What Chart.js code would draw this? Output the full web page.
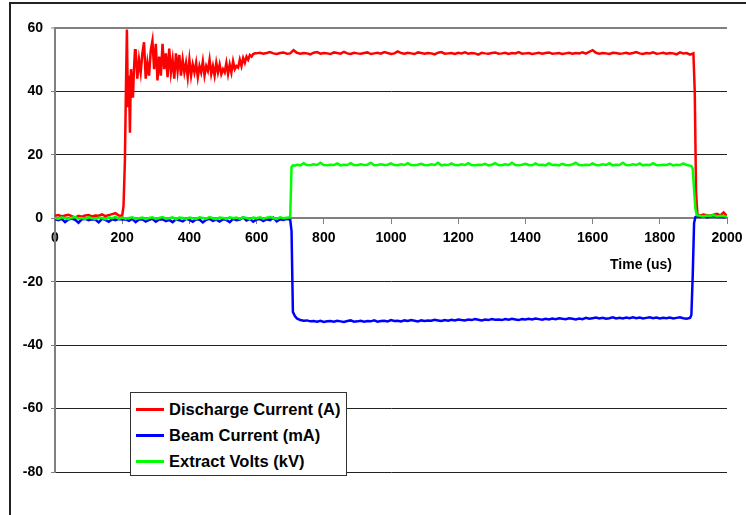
<!DOCTYPE html>
<html>
<head>
<meta charset="utf-8">
<script src="https://cdn.jsdelivr.net/npm/chart.js@4.4.0/dist/chart.umd.min.js"></script>
<style>
  body { margin: 0; background: #fff; }
  #wrap { position: relative; width: 746px; height: 515px; overflow: hidden; font-family: Arial, "Liberation Sans", sans-serif; }
  #frame { position: absolute; left: 9px; top: 2px; width: 800px; height: 600px; border-top: 2px solid #222; border-left: 2px solid #222; }
  #legend { position: absolute; left: 130px; top: 392px; width: 217px; height: 84px; box-sizing: border-box; border: 1px solid #333; background: #fff; }
  .item { position: absolute; left: 0; height: 20px; font-weight: bold; font-size: 16.5px; color: #000; white-space: nowrap; }
  .item .swatch { position: absolute; left: 5px; top: 9px; width: 28px; height: 3px; }
  .item .txt { position: absolute; left: 38px; top: 0; line-height: 20px; }
  #xtitle { position: absolute; left: 641px; top: 256px; transform: translateX(-50%); font-weight: bold; font-size: 14px; white-space: nowrap; }
  canvas { position: absolute; left: 0; top: 0; }
</style>
</head>
<body>
<div id="wrap">
  <div id="frame"></div>
  <canvas id="chart" width="746" height="515"></canvas>
  <div id="xtitle">Time (us)</div>
  <div id="legend"></div>
</div>
<script>
const seriesLabels = ['Discharge Current (A)', 'Beam Current (mA)', 'Extract Volts (kV)'];
const seriesColors = ['#ff0000', '#0000ff', '#00ff00'];

const xTicks = [0, 200, 400, 600, 800, 1000, 1200, 1400, 1600, 1800, 2000];
const yTicks = [-80, -60, -40, -20, 0, 20, 40, 60];

// discharge current, sampled denser where it rings
const dischargeTimeUs = [
  0, 10, 20, 30, 40, 50, 60, 70, 80, 90, 100, 110, 120, 130, 140, 150, 160, 170, 180, 190,
  200, 204, 208, 211, 214, 217, 220, 223, 226, 229, 232, 235, 238,
  240, 245, 250, 255, 260, 265, 270, 275, 280, 285, 290, 295, 300, 305, 310, 315, 320, 325, 330, 335,
  340, 345, 350, 355, 360, 365, 370, 375, 380, 385, 390, 395, 400, 405, 410, 415, 420, 425, 430, 435,
  440, 445, 450, 455, 460, 465, 470, 475, 480, 485, 490, 495, 500, 505, 510, 515, 520, 525, 530, 535,
  540, 545, 550, 555, 560, 565, 570, 575, 580, 585, 590, 595, 600,
  610, 620, 630, 640, 650, 660, 670, 680, 690, 700,
  710, 720, 730, 740, 750, 760, 770, 780, 790, 800,
  810, 820, 830, 840, 850, 860, 870, 880, 890, 900,
  910, 920, 930, 940, 950, 960, 970, 980, 990, 1000,
  1010, 1020, 1030, 1040, 1050, 1060, 1070, 1080, 1090, 1100,
  1110, 1120, 1130, 1140, 1150, 1160, 1170, 1180, 1190, 1200,
  1210, 1220, 1230, 1240, 1250, 1260, 1270, 1280, 1290, 1300,
  1310, 1320, 1330, 1340, 1350, 1360, 1370, 1380, 1390, 1400,
  1410, 1420, 1430, 1440, 1450, 1460, 1470, 1480, 1490, 1500,
  1510, 1520, 1530, 1540, 1550, 1560, 1570, 1580, 1590, 1600,
  1610, 1620, 1630, 1640, 1650, 1660, 1670, 1680, 1690, 1700,
  1710, 1720, 1730, 1740, 1750, 1760, 1770, 1780, 1790, 1800,
  1810, 1820, 1830, 1840, 1850, 1860, 1870, 1880, 1890,
  1900, 1904, 1908, 1912,
  1920, 1930, 1940, 1950, 1960, 1970, 1980, 1990, 2000
];
const dischargeA = [
  0.8, 1.0, 0.6, 0.9, 1.1, 0.7, 0.2, 0.8, 0.5, 0.9, 1.0, 0.6, 0.9, 0.8, 1.2, 0.7, 1.0, 1.3, 1.6, 0.9,
  0.8, 4, 18, 40, 59.5, 35, 45, 27, 47, 44, 38, 47, 53,
  53, 44, 50, 46, 52, 55.5, 44, 49, 45, 53, 56, 47, 55, 43.5, 51, 45, 55, 47, 52, 44.5,
  53.5, 46, 50, 44, 52, 46.5, 51.5, 45, 50, 46, 49, 44.5, 50, 45, 48.5, 46, 49, 44.5, 48, 46,
  49.5, 45, 48, 46.5, 50, 45.5, 48, 45, 49, 46, 48.5, 45.5, 47, 46, 49, 45.5, 48.5, 46, 49.5, 47,
  48, 47.5, 50, 48, 50.5, 49, 51, 50, 51.5, 51, 51.8, 52, 52,
  52.2, 51.9, 52.1, 52.4, 52.0, 51.8, 52.1, 52.3, 51.9, 52.0,
  53.0, 52.2, 51.9, 52.1, 52.0, 51.7, 52.2, 52.4, 51.9, 52.1,
  52.0, 51.8, 52.3, 52.1, 51.9, 52.5, 52.0, 51.8, 52.2, 52.0,
  51.9, 52.1, 52.3, 51.8, 52.0, 52.2, 51.9, 52.4, 52.1, 51.8,
  52.0, 52.6, 52.1, 51.9, 52.2, 52.0, 51.8, 52.3, 52.1, 51.9,
  52.1, 52.0, 51.7, 52.2, 52.4, 51.9, 52.0, 52.1, 51.8, 52.2,
  52.0, 52.3, 51.9, 52.1, 52.0, 51.6, 52.2, 52.0, 51.9, 52.1,
  52.3, 51.9, 52.0, 52.2, 51.8, 52.1, 52.0, 52.4, 51.9, 52.0,
  52.1, 51.8, 52.0, 52.2, 51.9, 52.1, 52.3, 51.9, 52.0, 52.1,
  51.8, 52.0, 52.2, 51.9, 52.1, 52.0, 52.3, 51.9, 52.5, 53.0,
  52.2, 51.9, 52.1, 52.0, 51.8, 52.2, 52.1, 51.9, 52.0, 52.2,
  51.9, 52.1, 52.4, 52.0, 51.8, 52.1, 52.0, 52.3, 51.9, 52.0,
  52.2, 51.9, 52.1, 52.0, 51.7, 52.3, 52.0, 52.1, 51.6,
  52.0, 40, 8, 1.2,
  0.9, 1.2, 1.0, 0.8, 1.1, 1.4, 0.9, 1.8, 0.7
];

// beam current and extract volts share one time base
const beamTimeUs = [
  0, 10, 20, 30, 40, 50, 60, 70, 80, 90,
  100, 110, 120, 130, 140, 150, 160, 170, 180, 190,
  200, 210, 220, 230, 240, 250, 260, 270, 280, 290,
  300, 310, 320, 330, 340, 350, 360, 370, 380, 390,
  400, 410, 420, 430, 440, 450, 460, 470, 480, 490,
  500, 510, 520, 530, 540, 550, 560, 570, 580, 590,
  600, 610, 620, 630, 640, 650, 660, 670, 680, 690,
  700, 704, 708, 714,
  720, 730, 740, 750, 760, 770, 780, 790, 800, 810,
  820, 830, 840, 850, 860, 870, 880, 890, 900, 910,
  920, 930, 940, 950, 960, 970, 980, 990, 1000, 1010,
  1020, 1030, 1040, 1050, 1060, 1070, 1080, 1090, 1100, 1110,
  1120, 1130, 1140, 1150, 1160, 1170, 1180, 1190, 1200, 1210,
  1220, 1230, 1240, 1250, 1260, 1270, 1280, 1290, 1300, 1310,
  1320, 1330, 1340, 1350, 1360, 1370, 1380, 1390, 1400, 1410,
  1420, 1430, 1440, 1450, 1460, 1470, 1480, 1490, 1500, 1510,
  1520, 1530, 1540, 1550, 1560, 1570, 1580, 1590, 1600, 1610,
  1620, 1630, 1640, 1650, 1660, 1670, 1680, 1690, 1700, 1710,
  1720, 1730, 1740, 1750, 1760, 1770, 1780, 1790, 1800, 1810,
  1820, 1830, 1840, 1850, 1860, 1870, 1880, 1890,
  1894, 1898, 1902, 1906, 1910,
  1920, 1930, 1940, 1950, 1960, 1970, 1980, 1990, 2000
];
const beamMa = [
  -0.3, -0.6, -0.2, -1.2, -0.4, -0.1, -0.5, -1.4, -0.3, -0.2,
  -0.6, -0.3, -0.4, -1.3, -0.2, -0.5, -1.1, -0.3, -0.6, -0.2,
  -0.4, -0.3, -0.8, -0.2, -1.2, -0.4, -0.3, -1.0, -0.5, -0.2,
  -1.1, -0.4, -0.3, -0.9, -0.5, -1.2, -0.3, -0.6, -1.0, -0.2,
  -0.5, -1.1, -0.3, -0.4, -1.3, -0.5, -0.2, -0.8, -0.4, -1.0,
  -0.3, -0.5, -1.2, -0.2, -0.6, -0.4, 0.3, -0.7, -0.2, -1.1,
  -0.4, -0.2, -0.9, -0.3, -0.6, 0.2, -1.0, -0.3, -0.5, -0.2,
  -0.4, -4, -29.5, -30.8,
  -31.6, -32.1, -32.3, -32.2, -32.5, -32.4, -32.6, -32.3, -32.7, -32.5,
  -32.4, -32.6, -32.3, -32.5, -32.7, -32.4, -32.2, -32.6, -32.5, -32.3,
  -32.6, -32.4, -32.5, -32.2, -32.6, -32.4, -32.3, -32.5, -32.1, -32.4,
  -32.3, -32.5, -32.2, -32.4, -32.1, -32.3, -32.5, -32.2, -32.4, -32.2,
  -32.3, -32.0, -32.2, -32.4, -32.1, -32.3, -32.0, -32.2, -31.9, -32.1,
  -32.2, -31.9, -32.1, -31.8, -32.0, -32.2, -31.9, -32.1, -31.8, -32.0,
  -31.9, -32.1, -31.8, -32.0, -31.7, -31.9, -32.1, -31.8, -31.9, -31.7,
  -31.9, -31.6, -31.8, -32.0, -31.7, -31.9, -31.6, -31.8, -31.5, -31.7,
  -31.8, -31.5, -31.7, -31.9, -31.6, -31.8, -31.4, -31.7, -31.5, -31.3,
  -31.6, -31.4, -31.7, -31.5, -31.2, -31.6, -31.4, -31.6, -31.3, -31.5,
  -31.2, -31.5, -31.3, -31.6, -31.4, -31.2, -31.5, -31.3, -31.6, -31.4,
  -31.5, -31.3, -31.6, -31.4, -31.2, -31.5, -31.7, -31.4,
  -30.5, -18, -1.5, 0.4, 0.6,
  0.4, 0.6, 0.3, 0.5, 0.7, 0.4, 0.5, 0.3, 0.5
];
const extractKv = [
  0.1, -0.2, 0.3, 0.0, -0.3, 0.2, 0.4, -0.1, 0.1, -0.2,
  0.3, 0.0, -0.2, 0.2, 0.1, -0.3, 0.3, 0.0, 0.5, -0.2,
  0.2, -0.1, 0.1, 0.3, -0.2, 0.0, 0.2, -0.3, 0.1, 0.3,
  -0.2, 0.1, 0.4, -0.1, 0.0, 0.3, -0.3, 0.2, 0.1, -0.2,
  0.2, 0.0, -0.2, 0.3, 0.1, -0.1, 0.4, 0.0, -0.3, 0.2,
  0.1, -0.2, 0.3, 0.0, 0.2, -0.1, 0.3, 0.1, -0.2, 0.2,
  0.0, 0.3, -0.1, 0.2, 0.4, 0.1, -0.2, 0.3, 0.0, 0.2,
  0.3, 16.2, 16.7, 16.6,
  16.9, 16.7, 17.4, 16.8, 16.7, 17.0, 16.8, 17.5, 16.8, 16.7,
  16.9, 16.8, 17.3, 16.7, 16.9, 16.8, 17.4, 16.8, 16.7, 17.0,
  16.8, 16.9, 17.5, 16.7, 16.8, 17.0, 16.8, 16.9, 17.3, 16.8,
  16.7, 17.0, 16.8, 17.4, 16.8, 16.7, 16.9, 17.2, 16.8, 16.7,
  17.0, 16.8, 17.5, 16.7, 16.9, 16.8, 17.3, 16.8, 16.7, 17.0,
  16.8, 17.4, 16.8, 16.7, 16.9, 16.8, 17.2, 16.7, 16.9, 17.4,
  16.8, 16.7, 17.0, 16.8, 17.5, 16.8, 16.7, 16.9, 17.2, 16.8,
  16.7, 17.3, 16.8, 16.9, 16.7, 17.4, 16.8, 16.9, 16.7, 17.2,
  16.8, 16.7, 17.0, 17.5, 16.8, 16.7, 16.9, 16.8, 17.3, 16.8,
  16.7, 17.0, 16.8, 17.4, 16.7, 16.9, 16.8, 17.5, 16.8, 16.7,
  17.0, 16.8, 17.3, 16.7, 16.9, 16.8, 17.4, 16.8, 16.7, 16.9,
  16.8, 17.2, 16.7, 16.9, 16.8, 17.3, 16.8, 16.6,
  16.5, 15.5, 9, 3, 1.0,
  0.8, 0.6, 0.9, 0.7, 1.0, 0.6, 0.8, 0.7, 0.5
];

const toPoints = (xs, ys) => xs.map((x, i) => ({ x: x, y: ys[i] }));

const tickFont = { family: 'Arial, "Liberation Sans", sans-serif', size: 14, weight: 'bold' };

const makeSet = (i, xs, ys, order) => ({
  label: seriesLabels[i],
  data: toPoints(xs, ys),
  borderColor: seriesColors[i],
  backgroundColor: seriesColors[i],
  borderWidth: 2.5,
  pointRadius: 0,
  tension: 0,
  order: order,
});

const chart = new Chart(document.getElementById('chart').getContext('2d'), {
  type: 'line',
  data: {
    datasets: [
      makeSet(0, dischargeTimeUs, dischargeA, 3),
      makeSet(1, beamTimeUs, beamMa, 2),
      makeSet(2, beamTimeUs, extractKv, 1),
    ],
  },
  options: {
    responsive: false,
    animation: false,
    events: [],
    layout: { padding: { top: 28, right: 19, bottom: 43, left: 0 } },
    plugins: { legend: { display: false }, tooltip: { enabled: false } },
    scales: {
      x: {
        type: 'linear',
        position: { y: 0 },
        min: 0,
        max: 2000,
        afterBuildTicks: scale => { scale.ticks = xTicks.map(v => ({ value: v })); },
        afterFit: scale => { scale.paddingLeft = 0; scale.paddingRight = 0; },
        ticks: { font: tickFont, color: '#000', padding: 6, maxRotation: 0, callback: v => String(v) },
        grid: { drawOnChartArea: false, drawTicks: true, tickLength: 5, tickColor: '#808080', tickWidth: 1 },
        border: { color: '#808080', width: 2 },
      },
      y: {
        min: -80,
        max: 60,
        afterBuildTicks: scale => { scale.ticks = yTicks.map(v => ({ value: v })); },
        afterFit: scale => { scale.width = 55; },
        ticks: { font: tickFont, color: '#000', padding: 8, callback: v => String(v) },
        grid: {
          color: ctx => ctx.tick && ctx.tick.value === 0 ? 'rgba(0,0,0,0)' : (ctx.tick && ctx.tick.value === 60 ? '#808080' : '#222'),
          lineWidth: ctx => ctx.tick && ctx.tick.value === 60 ? 2 : 1,
          tickLength: 4,
          tickColor: '#808080',
          tickWidth: 1,
        },
        border: { color: '#808080', width: 2 },
      },
    },
  },
});

// legend built from the datasets
const legendBox = document.getElementById('legend');
chart.data.datasets.forEach((ds, i) => {
  const row = document.createElement('div');
  row.className = 'item';
  row.style.top = (6 + i * 26) + 'px';
  row.innerHTML = '<span class="swatch" style="background:' + ds.borderColor + '"></span><span class="txt"></span>';
  row.querySelector('.txt').textContent = ds.label;
  legendBox.appendChild(row);
});
</script>
</body>
</html>
